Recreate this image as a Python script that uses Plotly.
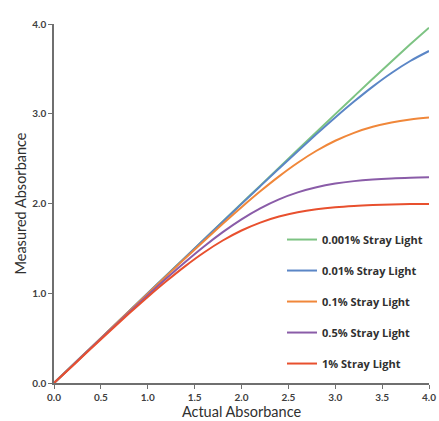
import plotly.graph_objects as go

actual = [0.0, 0.2, 0.4, 0.6, 0.8, 1.0, 1.2, 1.4, 1.6, 1.8, 2.0,
          2.2, 2.4, 2.6, 2.8, 3.0, 3.2, 3.4, 3.6, 3.8, 4.0]

stray_0001 = [0.0, 0.2, 0.4, 0.6, 0.8, 1.0, 1.2, 1.4, 1.6, 1.8, 1.9996,
              2.1993, 2.3989, 2.5983, 2.7973, 2.9957, 3.1932, 3.3892, 3.5830, 3.7734, 3.9586]
stray_001 = [0.0, 0.2, 0.4, 0.6, 0.8, 0.9996, 1.1993, 1.3989, 1.5983, 1.7973, 1.9957,
             2.1932, 2.3892, 2.5830, 2.7734, 2.9586, 3.1361, 3.3027, 3.4545, 3.5876, 3.6990]
stray_01 = [0.0, 0.1993, 0.3989, 0.5983, 0.7973, 0.9957, 1.1932, 1.3892, 1.5830, 1.7734, 1.9586,
            2.1361, 2.3027, 2.4545, 2.5876, 2.6990, 2.7875, 2.8545, 2.9027, 2.9361, 2.9586]
stray_05 = [0.0, 0.1966, 0.3946, 0.5914, 0.7865, 0.9788, 1.1669, 1.3486, 1.5212, 1.6809, 1.8239,
            1.9466, 2.0467, 2.1243, 2.1814, 2.2218, 2.2494, 2.2678, 2.2798, 2.2875, 2.2924]
stray_1 = [0.0, 0.1932, 0.3892, 0.5830, 0.7734, 0.9586, 1.1361, 1.3027, 1.4545, 1.5876, 1.6990,
           1.7875, 1.8545, 1.9027, 1.9361, 1.9586, 1.9734, 1.9830, 1.9892, 1.9932, 1.9957]

series_names = ["0.001% Stray Light", "0.01% Stray Light", "0.1% Stray Light",
                "0.5% Stray Light", "1% Stray Light"]
series_values = [stray_0001, stray_001, stray_01, stray_05, stray_1]
series_colors = ["#7DC383", "#5B86C6", "#F0873A", "#8A5CA8", "#E8502E"]

x_ticks = [0.0, 0.5, 1.0, 1.5, 2.0, 2.5, 3.0, 3.5, 4.0]
y_ticks = [0.0, 1.0, 2.0, 3.0, 4.0]

fig = go.Figure()
for i, (name, vals, col) in enumerate(zip(series_names, series_values, series_colors)):
    fig.add_trace(go.Scatter(
        x=actual, y=vals, mode="lines", name=name,
        line=dict(color=col, width=2, shape="spline"),
        legendgroup=f"g{i}",
    ))

axis_font = dict(family="Lato", size=10, color="#404040", weight="bold")

fig.update_layout(
    width=439, height=421,
    margin=dict(l=54, r=10, t=24, b=38),
    paper_bgcolor="white", plot_bgcolor="white",
    font=dict(family="Lato", color="#404040"),
    showlegend=True,
    legend=dict(
        x=0.608, y=0.44, xanchor="left", yanchor="top",
        font=dict(family="Open Sans", size=11, color="#303030", weight="bold"),
        tracegroupgap=12, traceorder="grouped",
        bgcolor="rgba(0,0,0,0)", borderwidth=0,
    ),
    xaxis=dict(
        range=[0, 4], tickvals=x_ticks, ticktext=[f"{v:.1f}" for v in x_ticks],
        showline=True, linecolor="#6f6f6f", linewidth=1.5,
        ticks="outside", ticklen=4, tickcolor="#6f6f6f",
        showgrid=False, zeroline=False, tickfont=axis_font,
        title=dict(text="Actual Absorbance", standoff=2,
                   font=dict(family="Lato", size=14.5, color="#303030")),
        automargin=False,
    ),
    yaxis=dict(
        range=[0, 4], tickvals=y_ticks, ticktext=[f"{v:.1f}" for v in y_ticks],
        showline=True, linecolor="#6f6f6f", linewidth=1.5,
        ticks="outside", ticklen=4, tickcolor="#6f6f6f",
        showgrid=False, zeroline=False, tickfont=axis_font,
        title=dict(text="Measured Absorbance", standoff=2,
                   font=dict(family="Lato", size=14.5, color="#303030")),
        automargin=False,
    ),
)

fig.write_html(
    "out.html",
    config={"displayModeBar": False},
    post_script="document.body.style.margin='0';document.body.style.overflow='hidden';",
)
